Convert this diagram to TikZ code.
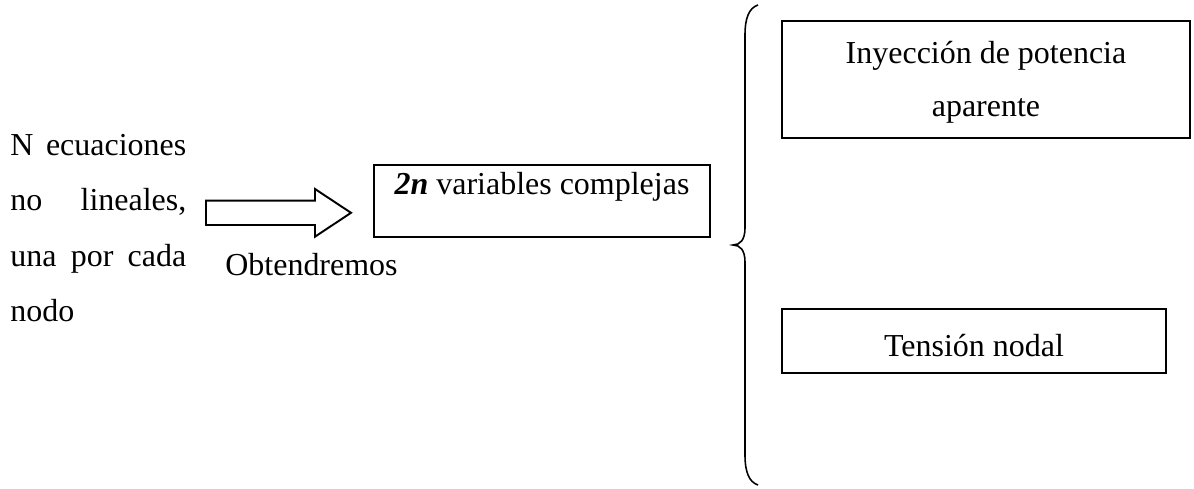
\documentclass[tikz,border=0pt]{standalone}
\usepackage{fontspec}
\setmainfont{Liberation Serif}
\begin{document}
\begin{tikzpicture}[x=0.02cm, y=-0.02cm,
    caja/.style={draw, line width=1.1pt, inner sep=0pt, align=center},
    letra/.style={font=\fontsize{18.2}{30.4}\selectfont}]
    \useasboundingbox (0,0) rectangle (1194,489);

    % Texto de la izquierda
    \node[anchor=base west, align=left, inner sep=0pt, font=\fontsize{18.2}{31.6}\selectfont] (ecuaciones) at (10,321.7)
        {\makebox[3.52cm][s]{N ecuaciones}\\ \makebox[3.52cm][s]{no lineales,}\\ \makebox[3.52cm][s]{una por cada}\\ nodo};

    % Flecha
    \draw[line width=1.1pt] (206,200.7) -- (315,200.7) -- (315,189) -- (351,212.8) -- (315,236.7) -- (315,225) -- (206,225) -- cycle;
    \node[letra, anchor=base west, inner sep=0pt] (obtendremos) at (225,276) {Obtendremos};

    % Caja central
    \node[caja, letra, anchor=base, minimum width=6.72cm, text height=0.6cm, text depth=0.84cm] (variables) at (542,195)
        {\textbf{\textit{2n}} variables complejas};

    % Llave
    \draw[line width=0.9pt] (758,5) .. controls (749,8) and (745,18) .. (745,35) -- (745,228)
        .. controls (745,240) and (740,245) .. (733,245) .. controls (740,245) and (745,250) .. (745,262)
        -- (745,455) .. controls (745,472) and (749,482) .. (758,485);

    % Cajas de la derecha
    \node[caja, letra, anchor=base, minimum width=8.16cm, text height=1.914cm, text depth=0.426cm] (inyeccion) at (986,116.7)
        {Inyección de potencia\\ aparente};
    \node[caja, letra, anchor=base, minimum width=7.68cm, text height=0.954cm, text depth=0.326cm] (tension) at (974,356.7)
        {Tensión nodal};
\end{tikzpicture}
\end{document}
